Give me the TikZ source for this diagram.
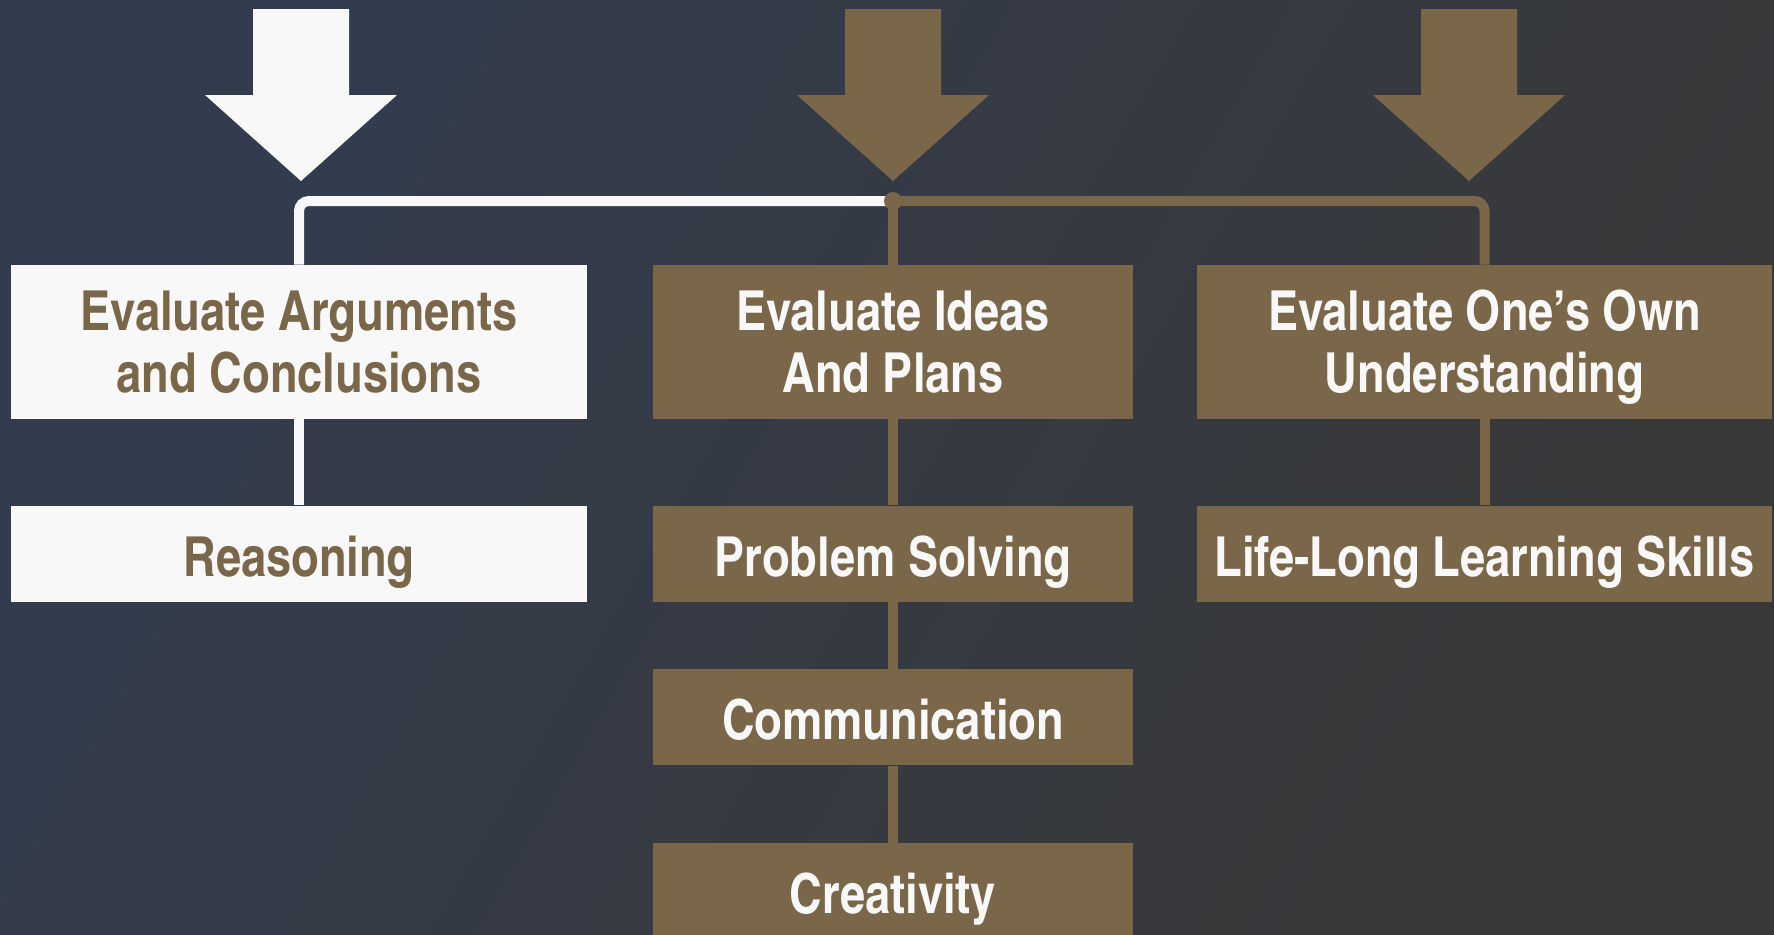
\documentclass[tikz,border=0pt]{standalone}
\usepackage{fontspec}
\setmainfont{TeX Gyre Heros Cn}
\usetikzlibrary{positioning}

\definecolor{bgnavy}{HTML}{323C4E}
\definecolor{bgmid}{HTML}{343B49}
\definecolor{bggray}{HTML}{383838}
\definecolor{brownbox}{HTML}{7A6649}
\definecolor{whitebox}{HTML}{F8F8F8}

% struts so every label sits on its cap height
\newcommand\topstrut{\rule{0pt}{33.6pt}}
\newcommand\botstrut{\rule[-8pt]{0pt}{8pt}}

\tikzset{
  skill/.style={rectangle, minimum height=1.92cm, inner sep=0pt, align=center,
    font=\fontsize{31.4}{35.3}\selectfont\bfseries,
    execute at begin node=\topstrut, execute at end node=\botstrut},
  twoline/.style={minimum height=3.08cm, text height=65.8pt, text depth=8pt},
  lightbox/.style={skill, fill=whitebox, text=brownbox},
  darkbox/.style={skill, fill=brownbox, text=whitebox},
  link/.style={line width=0.2cm},
}

\begin{document}
\begin{tikzpicture}[x=0.02cm, y=-0.02cm]
\useasboundingbox (0,0) rectangle (1774,934);
\shade[left color=bgnavy, middle color=bgmid, right color=bggray, shading angle=60]
  (0,0) rectangle (1774,934);

% top arrows
\foreach \ax/\ac in {301/whitebox, 893/brownbox, 1469/brownbox}
  \fill[\ac] (\ax-48,9) -- (\ax+48,9) -- (\ax+48,95) -- (\ax+96,95)
    -- (\ax,181) -- (\ax-96,95) -- (\ax-48,95) -- cycle;

% boxes
\node[lightbox, twoline, minimum width=11.52cm] (args) at (299,342)
  {Evaluate Arguments\\and Conclusions};
\node[lightbox, minimum width=11.52cm, below=1.72cm of args] (reason) {Reasoning};

\node[darkbox, twoline, minimum width=9.6cm] (ideas) at (893,342)
  {Evaluate Ideas\\And Plans};
\node[darkbox, minimum width=9.6cm, below=1.72cm of ideas] (solve) {Problem Solving};
\node[darkbox, minimum width=9.6cm, below=1.34cm of solve] (comm) {Communication};
\node[darkbox, minimum width=9.6cm, below=1.54cm of comm] (create) {Creativity};

\node[darkbox, twoline, minimum width=11.5cm] (own) at (1484.5,342)
  {Evaluate One’s Own\\Understanding};
\node[darkbox, minimum width=11.5cm, below=1.72cm of own] (life) {Life-Long Learning Skills};

% connectors
\coordinate (hub) at (893,201);
\draw[link, whitebox, rounded corners=0.2cm] (hub) -| (args.north);
\draw[link, brownbox, rounded corners=0.2cm] (hub) -| (own.north);
\draw[link, brownbox] (hub) -- (ideas.north);
\fill[brownbox] (hub) circle (0.18cm);
\draw[link, whitebox] (args) -- (reason);
\draw[link, brownbox] (ideas) edge (solve) (solve) edge (comm) (comm) edge (create);
\draw[link, brownbox] (own) -- (life);
\end{tikzpicture}
\end{document}
